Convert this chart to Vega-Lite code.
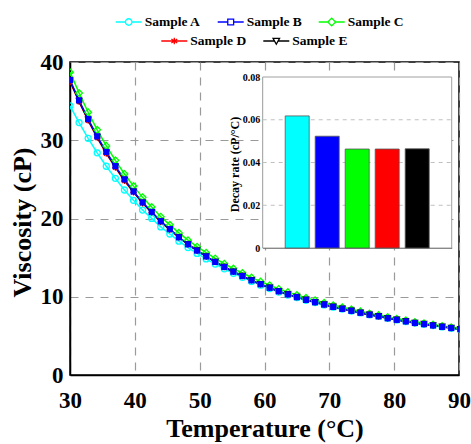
{
  "$schema": "https://vega.github.io/schema/vega-lite/v6.json",
  "width": 389,
  "height": 313,
  "autosize": "none",
  "padding": {"left": 70, "top": 62, "right": 12, "bottom": 69},
  "background": "white",
  "config": {"view": {"stroke": "black", "strokeWidth": 1.5}, "font": "Liberation Serif"},
  "datasets": {
    "visc": [
      {"sample":"Sample A","T":30,"V":34.4},{"sample":"Sample A","T":31.4,"V":32.26},{"sample":"Sample A","T":32.8,"V":30.25},{"sample":"Sample A","T":34.2,"V":28.39},{"sample":"Sample A","T":35.6,"V":26.68},{"sample":"Sample A","T":37,"V":25.13},{"sample":"Sample A","T":38.4,"V":23.64},{"sample":"Sample A","T":39.8,"V":22.32},{"sample":"Sample A","T":41.2,"V":21.08},{"sample":"Sample A","T":42.6,"V":20.01},{"sample":"Sample A","T":44,"V":18.92},{"sample":"Sample A","T":45.4,"V":18.02},{"sample":"Sample A","T":46.8,"V":17.1},{"sample":"Sample A","T":48.2,"V":16.28},{"sample":"Sample A","T":49.6,"V":15.54},{"sample":"Sample A","T":51,"V":14.84},{"sample":"Sample A","T":52.4,"V":14.18},{"sample":"Sample A","T":53.8,"V":13.57},{"sample":"Sample A","T":55.2,"V":13.0},{"sample":"Sample A","T":56.6,"V":12.48},{"sample":"Sample A","T":58,"V":11.96},{"sample":"Sample A","T":59.4,"V":11.48},{"sample":"Sample A","T":60.8,"V":11.04},{"sample":"Sample A","T":62.2,"V":10.61},{"sample":"Sample A","T":63.6,"V":10.22},{"sample":"Sample A","T":65,"V":9.89},{"sample":"Sample A","T":66.4,"V":9.55},{"sample":"Sample A","T":67.8,"V":9.25},{"sample":"Sample A","T":69.2,"V":8.96},{"sample":"Sample A","T":70.6,"V":8.67},{"sample":"Sample A","T":72,"V":8.42},{"sample":"Sample A","T":73.4,"V":8.18},{"sample":"Sample A","T":74.8,"V":7.93},{"sample":"Sample A","T":76.2,"V":7.69},{"sample":"Sample A","T":77.6,"V":7.49},{"sample":"Sample A","T":79,"V":7.24},{"sample":"Sample A","T":80.4,"V":7.04},{"sample":"Sample A","T":81.8,"V":6.84},{"sample":"Sample A","T":83.2,"V":6.64},{"sample":"Sample A","T":84.6,"V":6.49},{"sample":"Sample A","T":86,"V":6.32},{"sample":"Sample A","T":87.4,"V":6.14},{"sample":"Sample A","T":88.8,"V":5.99},{"sample":"Sample A","T":90.2,"V":5.84},
      {"sample":"Sample C","T":30,"V":38.7},{"sample":"Sample C","T":31.4,"V":36.04},{"sample":"Sample C","T":32.8,"V":33.58},{"sample":"Sample C","T":34.2,"V":31.33},{"sample":"Sample C","T":35.6,"V":29.28},{"sample":"Sample C","T":37,"V":27.43},{"sample":"Sample C","T":38.4,"V":25.69},{"sample":"Sample C","T":39.8,"V":24.14},{"sample":"Sample C","T":41.2,"V":22.7},{"sample":"Sample C","T":42.6,"V":21.46},{"sample":"Sample C","T":44,"V":20.23},{"sample":"Sample C","T":45.4,"V":19.19},{"sample":"Sample C","T":46.8,"V":18.16},{"sample":"Sample C","T":48.2,"V":17.23},{"sample":"Sample C","T":49.6,"V":16.4},{"sample":"Sample C","T":51,"V":15.63},{"sample":"Sample C","T":52.4,"V":14.9},{"sample":"Sample C","T":53.8,"V":14.22},{"sample":"Sample C","T":55.2,"V":13.6},{"sample":"Sample C","T":56.6,"V":13.03},{"sample":"Sample C","T":58,"V":12.46},{"sample":"Sample C","T":59.4,"V":11.94},{"sample":"Sample C","T":60.8,"V":11.47},{"sample":"Sample C","T":62.2,"V":11.0},{"sample":"Sample C","T":63.6,"V":10.59},{"sample":"Sample C","T":65,"V":10.22},{"sample":"Sample C","T":66.4,"V":9.86},{"sample":"Sample C","T":67.8,"V":9.54},{"sample":"Sample C","T":69.2,"V":9.23},{"sample":"Sample C","T":70.6,"V":8.92},{"sample":"Sample C","T":72,"V":8.65},{"sample":"Sample C","T":73.4,"V":8.39},{"sample":"Sample C","T":74.8,"V":8.13},{"sample":"Sample C","T":76.2,"V":7.87},{"sample":"Sample C","T":77.6,"V":7.66},{"sample":"Sample C","T":79,"V":7.41},{"sample":"Sample C","T":80.4,"V":7.2},{"sample":"Sample C","T":81.8,"V":6.99},{"sample":"Sample C","T":83.2,"V":6.78},{"sample":"Sample C","T":84.6,"V":6.62},{"sample":"Sample C","T":86,"V":6.45},{"sample":"Sample C","T":87.4,"V":6.26},{"sample":"Sample C","T":88.8,"V":6.1},{"sample":"Sample C","T":90.2,"V":5.95},
      {"sample":"Sample D","T":30,"V":37.5},{"sample":"Sample D","T":31.4,"V":34.9},{"sample":"Sample D","T":32.8,"V":32.5},{"sample":"Sample D","T":34.2,"V":30.3},{"sample":"Sample D","T":35.6,"V":28.3},{"sample":"Sample D","T":37,"V":26.5},{"sample":"Sample D","T":38.4,"V":24.8},{"sample":"Sample D","T":39.8,"V":23.35},{"sample":"Sample D","T":41.2,"V":21.95},{"sample":"Sample D","T":42.6,"V":20.75},{"sample":"Sample D","T":44,"V":19.55},{"sample":"Sample D","T":45.4,"V":18.55},{"sample":"Sample D","T":46.8,"V":17.6},{"sample":"Sample D","T":48.2,"V":16.7},{"sample":"Sample D","T":49.6,"V":15.9},{"sample":"Sample D","T":51,"V":15.15},{"sample":"Sample D","T":52.4,"V":14.45},{"sample":"Sample D","T":53.8,"V":13.8},{"sample":"Sample D","T":55.2,"V":13.2},{"sample":"Sample D","T":56.6,"V":12.65},{"sample":"Sample D","T":58,"V":12.1},{"sample":"Sample D","T":59.4,"V":11.6},{"sample":"Sample D","T":60.8,"V":11.15},{"sample":"Sample D","T":62.2,"V":10.7},{"sample":"Sample D","T":63.6,"V":10.3},{"sample":"Sample D","T":65,"V":9.95},{"sample":"Sample D","T":66.4,"V":9.6},{"sample":"Sample D","T":67.8,"V":9.3},{"sample":"Sample D","T":69.2,"V":9.0},{"sample":"Sample D","T":70.6,"V":8.7},{"sample":"Sample D","T":72,"V":8.45},{"sample":"Sample D","T":73.4,"V":8.2},{"sample":"Sample D","T":74.8,"V":7.95},{"sample":"Sample D","T":76.2,"V":7.7},{"sample":"Sample D","T":77.6,"V":7.5},{"sample":"Sample D","T":79,"V":7.25},{"sample":"Sample D","T":80.4,"V":7.05},{"sample":"Sample D","T":81.8,"V":6.85},{"sample":"Sample D","T":83.2,"V":6.65},{"sample":"Sample D","T":84.6,"V":6.5},{"sample":"Sample D","T":86,"V":6.33},{"sample":"Sample D","T":87.4,"V":6.15},{"sample":"Sample D","T":88.8,"V":6.0},{"sample":"Sample D","T":90.2,"V":5.85},
      {"sample":"Sample E","T":30,"V":37.6},{"sample":"Sample E","T":31.4,"V":35.0},{"sample":"Sample E","T":32.8,"V":32.6},{"sample":"Sample E","T":34.2,"V":30.4},{"sample":"Sample E","T":35.6,"V":28.4},{"sample":"Sample E","T":37,"V":26.6},{"sample":"Sample E","T":38.4,"V":24.9},{"sample":"Sample E","T":39.8,"V":23.4},{"sample":"Sample E","T":41.2,"V":22.0},{"sample":"Sample E","T":42.6,"V":20.8},{"sample":"Sample E","T":44,"V":19.6},{"sample":"Sample E","T":45.4,"V":18.6},{"sample":"Sample E","T":46.8,"V":17.6},{"sample":"Sample E","T":48.2,"V":16.7},{"sample":"Sample E","T":49.6,"V":15.9},{"sample":"Sample E","T":51,"V":15.15},{"sample":"Sample E","T":52.4,"V":14.45},{"sample":"Sample E","T":53.8,"V":13.8},{"sample":"Sample E","T":55.2,"V":13.2},{"sample":"Sample E","T":56.6,"V":12.65},{"sample":"Sample E","T":58,"V":12.1},{"sample":"Sample E","T":59.4,"V":11.6},{"sample":"Sample E","T":60.8,"V":11.15},{"sample":"Sample E","T":62.2,"V":10.7},{"sample":"Sample E","T":63.6,"V":10.3},{"sample":"Sample E","T":65,"V":9.95},{"sample":"Sample E","T":66.4,"V":9.6},{"sample":"Sample E","T":67.8,"V":9.3},{"sample":"Sample E","T":69.2,"V":9.0},{"sample":"Sample E","T":70.6,"V":8.7},{"sample":"Sample E","T":72,"V":8.45},{"sample":"Sample E","T":73.4,"V":8.2},{"sample":"Sample E","T":74.8,"V":7.95},{"sample":"Sample E","T":76.2,"V":7.7},{"sample":"Sample E","T":77.6,"V":7.5},{"sample":"Sample E","T":79,"V":7.25},{"sample":"Sample E","T":80.4,"V":7.05},{"sample":"Sample E","T":81.8,"V":6.85},{"sample":"Sample E","T":83.2,"V":6.65},{"sample":"Sample E","T":84.6,"V":6.5},{"sample":"Sample E","T":86,"V":6.33},{"sample":"Sample E","T":87.4,"V":6.15},{"sample":"Sample E","T":88.8,"V":6.0},{"sample":"Sample E","T":90.2,"V":5.85},
      {"sample":"Sample B","T":30,"V":37.7},{"sample":"Sample B","T":31.4,"V":35.1},{"sample":"Sample B","T":32.8,"V":32.7},{"sample":"Sample B","T":34.2,"V":30.5},{"sample":"Sample B","T":35.6,"V":28.5},{"sample":"Sample B","T":37,"V":26.7},{"sample":"Sample B","T":38.4,"V":25.0},{"sample":"Sample B","T":39.8,"V":23.45},{"sample":"Sample B","T":41.2,"V":22.05},{"sample":"Sample B","T":42.6,"V":20.85},{"sample":"Sample B","T":44,"V":19.65},{"sample":"Sample B","T":45.4,"V":18.65},{"sample":"Sample B","T":46.8,"V":17.6},{"sample":"Sample B","T":48.2,"V":16.7},{"sample":"Sample B","T":49.6,"V":15.9},{"sample":"Sample B","T":51,"V":15.15},{"sample":"Sample B","T":52.4,"V":14.45},{"sample":"Sample B","T":53.8,"V":13.8},{"sample":"Sample B","T":55.2,"V":13.2},{"sample":"Sample B","T":56.6,"V":12.65},{"sample":"Sample B","T":58,"V":12.1},{"sample":"Sample B","T":59.4,"V":11.6},{"sample":"Sample B","T":60.8,"V":11.15},{"sample":"Sample B","T":62.2,"V":10.7},{"sample":"Sample B","T":63.6,"V":10.3},{"sample":"Sample B","T":65,"V":9.95},{"sample":"Sample B","T":66.4,"V":9.6},{"sample":"Sample B","T":67.8,"V":9.3},{"sample":"Sample B","T":69.2,"V":9.0},{"sample":"Sample B","T":70.6,"V":8.7},{"sample":"Sample B","T":72,"V":8.45},{"sample":"Sample B","T":73.4,"V":8.2},{"sample":"Sample B","T":74.8,"V":7.95},{"sample":"Sample B","T":76.2,"V":7.7},{"sample":"Sample B","T":77.6,"V":7.5},{"sample":"Sample B","T":79,"V":7.25},{"sample":"Sample B","T":80.4,"V":7.05},{"sample":"Sample B","T":81.8,"V":6.85},{"sample":"Sample B","T":83.2,"V":6.65},{"sample":"Sample B","T":84.6,"V":6.5},{"sample":"Sample B","T":86,"V":6.33},{"sample":"Sample B","T":87.4,"V":6.15},{"sample":"Sample B","T":88.8,"V":6.0},{"sample":"Sample B","T":90.2,"V":5.85}
    ],
    "rate": [
      {"sample":"Sample A","rate":0.0618},
      {"sample":"Sample B","rate":0.0523},
      {"sample":"Sample C","rate":0.0463},
      {"sample":"Sample D","rate":0.0463},
      {"sample":"Sample E","rate":0.0464}
    ]
  },
  "layer": [
    {
      "data": {"name": "visc"},
      "layer": [
        {
          "mark": {"type": "line", "clip": true, "strokeWidth": 1.5},
          "encoding": {
            "x": {"field": "T", "type": "quantitative",
              "scale": {"domain": [30, 90], "nice": false, "zero": false},
              "axis": {"orient": "bottom", "values": [30,40,50,60,70,80,90], "grid": true, "gridColor": "#9a9a9a", "gridDash": [8,7], "gridWidth": 1.2,
                "domainColor": "black", "domainWidth": 1.5, "ticks": false, "labelFlush": false, "labelOverlap": false,
                "labelFont": "Liberation Serif", "labelFontWeight": "bold", "labelFontSize": 23, "labelColor": "black", "labelPadding": 14,
                "title": "Temperature (°C)", "titleFont": "Liberation Serif", "titleFontWeight": "bold", "titleFontSize": 26, "titleColor": "black",
                "titleBaseline": "alphabetic", "titleY": 61}},
            "y": {"field": "V", "type": "quantitative",
              "scale": {"domain": [0, 40], "nice": false, "zero": false},
              "axis": {"orient": "left", "values": [0,10,20,30,40], "grid": true, "gridColor": "#9a9a9a", "gridDash": [8,7], "gridWidth": 1.2,
                "domainColor": "black", "domainWidth": 1.5, "ticks": false, "labelFlush": false, "labelOverlap": false,
                "labelFont": "Liberation Serif", "labelFontWeight": "bold", "labelFontSize": 23, "labelColor": "black", "labelPadding": 7,
                "title": "Viscosity (cP)", "titleFont": "Liberation Serif", "titleFontWeight": "bold", "titleFontSize": 26, "titleColor": "black",
                "titleAngle": -90, "titleBaseline": "alphabetic", "titleX": -40, "titleY": 160, "titleAlign": "center"}},
            "color": {"field": "sample", "type": "nominal",
              "scale": {"domain": ["Sample A","Sample B","Sample C","Sample D","Sample E"], "range": ["#00ffff","#0000ff","#00ff00","#ff0000","#000000"]},
              "legend": null}
          }
        },
        {
          "transform": [{"filter": {"field": "sample", "equal": "Sample A"}}],
          "mark": {"type": "point", "shape": "circle", "filled": false, "color": "#00ffff", "strokeWidth": 1.3, "size": 36, "opacity": 1, "clip": true},
          "encoding": {"x": {"field": "T", "type": "quantitative"}, "y": {"field": "V", "type": "quantitative"}}
        },
        {
          "transform": [{"filter": {"field": "sample", "equal": "Sample C"}}],
          "mark": {"type": "point", "shape": "diamond", "filled": false, "color": "#00ff00", "strokeWidth": 1.3, "size": 45, "opacity": 1, "clip": true},
          "encoding": {"x": {"field": "T", "type": "quantitative"}, "y": {"field": "V", "type": "quantitative"}}
        },
        {
          "transform": [{"filter": {"field": "sample", "equal": "Sample D"}}],
          "mark": {"type": "point", "shape": "M-1,0H1M0,-1V1M-0.7,-0.7L0.7,0.7M-0.7,0.7L0.7,-0.7", "filled": false, "color": "#ff0000", "strokeWidth": 1.2, "size": 40, "opacity": 1, "clip": true},
          "encoding": {"x": {"field": "T", "type": "quantitative"}, "y": {"field": "V", "type": "quantitative"}}
        },
        {
          "transform": [{"filter": {"field": "sample", "equal": "Sample E"}}],
          "mark": {"type": "point", "shape": "triangle-down", "filled": true, "color": "#111111", "size": 58, "opacity": 1, "clip": true},
          "encoding": {"x": {"field": "T", "type": "quantitative"}, "y": {"field": "V", "type": "quantitative"}}
        },
        {
          "transform": [{"filter": {"field": "sample", "equal": "Sample B"}}],
          "mark": {"type": "point", "shape": "square", "filled": true, "color": "#0000ff", "size": 38, "opacity": 1, "clip": true},
          "encoding": {"x": {"field": "T", "type": "quantitative"}, "y": {"field": "V", "type": "quantitative"}}
        },
        {
          "transform": [{"filter": {"field": "T", "equal": 30}}, {"filter": {"field": "sample", "oneOf": ["Sample A","Sample B","Sample C"]}}],
          "mark": {"type": "point", "filled": false, "opacity": 1, "clip": true, "strokeWidth": 1.3},
          "encoding": {
            "x": {"field": "T", "type": "quantitative"},
            "y": {"datum": -100, "type": "quantitative"},
            "shape": {"field": "sample", "type": "nominal",
              "scale": {"domain": ["Sample A","Sample B","Sample C"], "range": [
                "M-2,0H-0.5A0.5,0.5,0,1,1,0.5,0A0.5,0.5,0,1,1,-0.5,0M0.5,0H2",
                "M-2,0H-0.45V-0.45H0.45V0.45H-0.45V0M0.45,0H2",
                "M-2,0H-0.6L0,-0.6L0.6,0L0,0.6L-0.6,0M0.6,0H2"]},
              "legend": {"orient": "none", "legendX": 51.2, "legendY": -47.5, "direction": "horizontal", "title": null, "symbolSize": 169, "symbolStrokeWidth": 1.3,
                "labelFont": "Liberation Serif", "labelFontWeight": "bold", "labelFontSize": 13.5, "labelColor": "black", "labelOffset": 8.5, "columnPadding": 13, "padding": 0}},
            "stroke": {"field": "sample", "type": "nominal",
              "scale": {"domain": ["Sample A","Sample B","Sample C"], "range": ["#00ffff","#0000ff","#00ff00"]},
              "legend": {"orient": "none", "legendX": 51.2, "legendY": -47.5, "direction": "horizontal", "title": null, "symbolSize": 169, "symbolStrokeWidth": 1.3,
                "labelFont": "Liberation Serif", "labelFontWeight": "bold", "labelFontSize": 13.5, "labelColor": "black", "labelOffset": 8.5, "columnPadding": 13, "padding": 0}}
          }
        },
        {
          "transform": [{"filter": {"field": "T", "equal": 30}}, {"filter": {"field": "sample", "oneOf": ["Sample D","Sample E"]}}],
          "mark": {"type": "point", "filled": false, "opacity": 1, "clip": true, "strokeWidth": 1.3},
          "encoding": {
            "x": {"field": "T", "type": "quantitative"},
            "y": {"datum": -100, "type": "quantitative"},
            "shape": {"field": "sample", "type": "nominal",
              "scale": {"domain": ["Sample D","Sample E"], "range": [
                "M-2,0H2M0,-0.5V0.5M-0.45,-0.3L0.45,0.3M-0.45,0.3L0.45,-0.3",
                "M-2,0H-0.28M-0.5,-0.4H0.5L0,0.5ZM0.28,0H2"]},
              "legend": {"orient": "none", "legendX": 96.8, "legendY": -28.5, "direction": "horizontal", "title": null, "symbolSize": 169, "symbolStrokeWidth": 1.3,
                "labelFont": "Liberation Serif", "labelFontWeight": "bold", "labelFontSize": 13.5, "labelColor": "black", "labelOffset": 8.5, "columnPadding": 13, "padding": 0}},
            "stroke": {"field": "sample", "type": "nominal",
              "scale": {"domain": ["Sample D","Sample E"], "range": ["#ff0000","#000000"]},
              "legend": {"orient": "none", "legendX": 96.8, "legendY": -28.5, "direction": "horizontal", "title": null, "symbolSize": 169, "symbolStrokeWidth": 1.3,
                "labelFont": "Liberation Serif", "labelFontWeight": "bold", "labelFontSize": 13.5, "labelColor": "black", "labelOffset": 8.5, "columnPadding": 13, "padding": 0}}
          }
        }
      ],
      "resolve": {"scale": {"shape": "independent", "stroke": "independent"}}
    },
    {
      "data": {"name": "rate"},
      "layer": [
        {
          "transform": [{"filter": {"field": "sample", "equal": "Sample A"}}],
          "layer": [
            {
              "mark": {"type": "rect", "fill": "white", "stroke": "#a0a0a0", "strokeWidth": 1},
              "encoding": {
                "x": {"datum": -0.25, "type": "quantitative", "scale": {"domain": [-0.25, 6.25], "range": [192.7, 381.7], "nice": false, "zero": false}, "axis": null},
                "x2": {"datum": 6.25},
                "y": {"datum": 0, "type": "quantitative", "scale": {"domain": [0, 0.08], "range": [186, 15], "nice": false, "zero": false},
                  "axis": {"orient": "left", "offset": -192.7, "values": [0,0.02,0.04,0.06,0.08], "format": "~g", "grid": false, "ticks": false,
                    "domainColor": "#808080", "domainWidth": 1, "labelFlush": false, "labelOverlap": false,
                    "labelFont": "Liberation Serif", "labelFontWeight": "bold", "labelFontSize": 10, "labelColor": "black", "labelPadding": 3,
                    "title": "Decay rate (cP/°C)", "titleFont": "Liberation Serif", "titleFontWeight": "bold", "titleFontSize": 12, "titleColor": "black",
                    "titleAngle": -90, "titleBaseline": "alphabetic", "titleAlign": "center", "titleX": -24, "titleY": 102}},
                "y2": {"datum": 0.08}
              }
            },
            {
              "mark": {"type": "rule", "color": "#c0c0c0", "strokeDash": [4,4], "strokeWidth": 1},
              "encoding": {"x": {"datum": -0.25, "type": "quantitative"}, "x2": {"datum": 6.25}, "y": {"datum": 0.02, "type": "quantitative"}}
            },
            {
              "mark": {"type": "rule", "color": "#c0c0c0", "strokeDash": [4,4], "strokeWidth": 1},
              "encoding": {"x": {"datum": -0.25, "type": "quantitative"}, "x2": {"datum": 6.25}, "y": {"datum": 0.04, "type": "quantitative"}}
            },
            {
              "mark": {"type": "rule", "color": "#c0c0c0", "strokeDash": [4,4], "strokeWidth": 1},
              "encoding": {"x": {"datum": -0.25, "type": "quantitative"}, "x2": {"datum": 6.25}, "y": {"datum": 0.06, "type": "quantitative"}}
            }
          ]
        },
        {
          "mark": {"type": "bar", "stroke": "#555555", "strokeWidth": 0.8},
          "encoding": {
            "x": {"field": "sample", "type": "nominal",
              "scale": {"range": [192.7, 381.7], "paddingInner": 0.2, "paddingOuter": 0.75},
              "axis": {"orient": "bottom", "offset": -127.3, "labels": false, "ticks": false, "title": null, "domainColor": "#333333", "domainWidth": 1}},
            "y": {"field": "rate", "type": "quantitative"},
            "fill": {"field": "sample", "type": "nominal",
              "scale": {"domain": ["Sample A","Sample B","Sample C","Sample D","Sample E"], "range": ["#00ffff","#0000ff","#00ff00","#ff0000","#000000"]},
              "legend": null}
          }
        }
      ],
      "resolve": {"scale": {"x": "independent"}, "axis": {"x": "independent"}}
    }
  ],
  "resolve": {"scale": {"x": "independent", "y": "independent"}, "axis": {"x": "independent", "y": "independent"}}
}
